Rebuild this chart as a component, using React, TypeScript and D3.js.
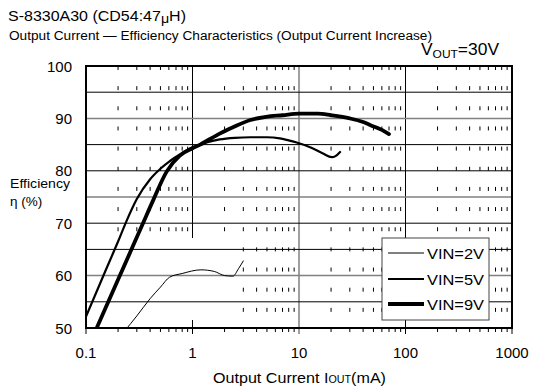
import React from "react";
import * as d3 from "d3";

const xTicks = [0.1, 1, 10, 100, 1000];
const xTickLabels = ["0.1", "1", "10", "100", "1000"];
const yTicks = [50, 60, 70, 80, 90, 100];
const yTickLabels = ["50", "60", "70", "80", "90", "100"];
const yGrid = [55, 60, 65, 70, 75, 80, 85, 90, 95];
const yGridGrey = [60, 75, 90];
const xMajorGrid = [1, 10, 100];
const xMajorGridGrey = [10];

const vin2X = [0.23, 0.3, 0.4, 0.5, 0.61, 0.8, 1.2, 1.6, 2.0, 2.4, 2.7, 3.0];
const vin2Y = [49.4, 52.3, 55.6, 57.8, 59.7, 60.4, 61.1, 60.8, 60.0, 59.9, 61.3, 62.8];

const vin5X = [0.1, 0.15, 0.2, 0.24, 0.3, 0.4, 0.5, 0.6, 0.76, 1.0, 1.3, 1.8, 2.5, 3.5, 5, 6.6, 8, 9.5, 12.7, 16.8, 20.3, 22, 24.3];
const vin5Y = [52.2, 60.6, 66.5, 70.4, 74.6, 78.4, 80.4, 81.7, 83.1, 84.5, 85.3, 86.0, 86.3, 86.4, 86.4, 86.2, 85.8, 85.4, 84.5, 83.3, 82.6, 82.8, 83.6];

const vin9X = [0.126, 0.15, 0.208, 0.27, 0.343, 0.43, 0.57, 0.76, 1.0, 1.18, 1.8, 2.4, 3.5, 4.9, 7, 10, 15, 20, 30, 40, 47, 60, 70];
const vin9Y = [50.0, 53.5, 60.0, 65.2, 70.0, 74.5, 79.8, 82.9, 84.3, 85.0, 87.1, 88.3, 89.7, 90.3, 90.6, 90.9, 90.9, 90.6, 90.0, 89.3, 88.7, 87.8, 87.0];

const seriesNames = ["VIN=2V", "VIN=5V", "VIN=9V"];
const seriesWidths = [1, 2.2, 3.8];

const W = 533;
const H = 387;
const L = 86, R = 512, T = 66, B = 328;

export default function App() {
  const x = d3.scaleLog().domain([0.1, 1000]).range([L, R]);
  const y = d3.scaleLinear().domain([50, 100]).range([B, T]);
  const line = d3
    .line<[number, number]>()
    .x((d) => x(d[0]))
    .y((d) => y(d[1]))
    .curve(d3.curveMonotoneX);

  const series = [
    vin2X.map((v, i) => [v, vin2Y[i]] as [number, number]),
    vin5X.map((v, i) => [v, vin5Y[i]] as [number, number]),
    vin9X.map((v, i) => [v, vin9Y[i]] as [number, number]),
  ];

  const minors: number[] = [];
  [0.1, 1, 10, 100].forEach((dec) => {
    for (let m = 2; m <= 9; m++) minors.push(dec * m);
  });
  const period = (B - T) / 13;
  const dashes: { x: number; y: number }[] = [];
  minors.forEach((mv) => {
    for (let k = 0; k <= 13; k++) {
      if (mv < 2.5 && k >= 9 && k <= 12) continue;
      dashes.push({ x: x(mv), y: T + k * period });
    }
  });

  const font = "'Liberation Sans', Arial, sans-serif";
  const legX = 382, legY = 238, legW = 107, legH = 82;
  const legRows = [253, 279, 304];

  return (
    <svg width={W} height={H} style={{ position: "absolute", left: 0, top: 0, background: "#fff" }} fontFamily={font}>
      <defs>
        <clipPath id="plotclip">
          <rect x={L} y={T} width={R - L} height={B - T} />
        </clipPath>
      </defs>
      <rect x={0} y={0} width={W} height={H} fill="#fff" />
      {dashes.map((d, i) => (
        <line key={"d" + i} x1={d.x} x2={d.x} y1={d.y} y2={d.y + 4} stroke="#000" strokeWidth={1} />
      ))}
      {xMajorGrid.map((v) => (
        <line
          key={"vx" + v}
          x1={x(v)}
          x2={x(v)}
          y1={T}
          y2={v === 1 ? 238 : B}
          stroke={xMajorGridGrey.includes(v) ? "#808080" : "#000"}
          strokeWidth={xMajorGridGrey.includes(v) ? 1.5 : 1}
        />
      ))}
      {yGrid.map((v) => (
        <line
          key={"hy" + v}
          x1={L}
          x2={R}
          y1={y(v)}
          y2={y(v)}
          stroke={yGridGrey.includes(v) ? "#808080" : "#000"}
          strokeWidth={yGridGrey.includes(v) ? 1.5 : 1}
        />
      ))}
      {xTicks.map((v) => (
        <line key={"bt" + v} x1={x(v)} x2={x(v)} y1={v === 1 ? 320 : B} y2={B + 6} stroke={v === 10 ? "#808080" : "#000"} strokeWidth={v === 10 ? 1.5 : 1} />
      ))}
      <g clipPath="url(#plotclip)">
        {series.map((s, i) => (
          <path key={"s" + i} d={line(s) || ""} fill="none" stroke="#000" strokeWidth={seriesWidths[i]} strokeLinejoin="round" strokeLinecap="round" />
        ))}
      </g>
      <rect x={L} y={T} width={R - L} height={B - T} fill="none" stroke="#000" strokeWidth={2} />
      <rect x={legX} y={legY} width={legW} height={legH} fill="#fff" stroke="#444" strokeWidth={1} />
      {seriesNames.map((n, i) => (
        <g key={"lg" + i}>
          <line x1={388} x2={424} y1={legRows[i]} y2={legRows[i]} stroke="#000" strokeWidth={seriesWidths[i]} />
          <text x={427} y={legRows[i] + 5.5} fontSize={15.5} fill="#000" textLength={57} lengthAdjust="spacingAndGlyphs">
            {n}
          </text>
        </g>
      ))}
      {yTicks.map((v, i) => (
        <text key={"yl" + v} x={72} y={y(v) + 5.5} textAnchor="end" fontSize={15} fill="#000">
          {yTickLabels[i]}
        </text>
      ))}
      {xTicks.map((v, i) => (
        <text key={"xl" + v} x={x(v)} y={358} textAnchor="middle" fontSize={15} fill="#000">
          {xTickLabels[i]}
        </text>
      ))}
      <text x={213} y={383} fontSize={15} fill="#000" textLength={173} lengthAdjust="spacingAndGlyphs">
        Output Current I<tspan fontSize={10}>OUT</tspan>(mA)
      </text>
      <text x={10} y={188} fontSize={13.5} fill="#000" textLength={60} lengthAdjust="spacingAndGlyphs">Efficiency</text>
      <text x={10} y={206} fontSize={13.5} fill="#000">η (%)</text>
      <text x={8} y={21} fontSize={14} fill="#000" textLength={178} lengthAdjust="spacingAndGlyphs">
        S-8330A30 (CD54:47<tspan fontSize={12.5} dy={2}>μ</tspan>
        <tspan dy={-2}>H)</tspan>
      </text>
      <text x={9} y={40} fontSize={12.5} fill="#000" textLength={423} lengthAdjust="spacingAndGlyphs">
        Output Current — Efficiency Characteristics (Output Current Increase)
      </text>
      <text x={421} y={55} fontSize={16} fill="#000" textLength={78} lengthAdjust="spacingAndGlyphs">
        V<tspan fontSize={11} dy={3}>OUT</tspan>
        <tspan dy={-3}>=30V</tspan>
      </text>
    </svg>
  );
}
